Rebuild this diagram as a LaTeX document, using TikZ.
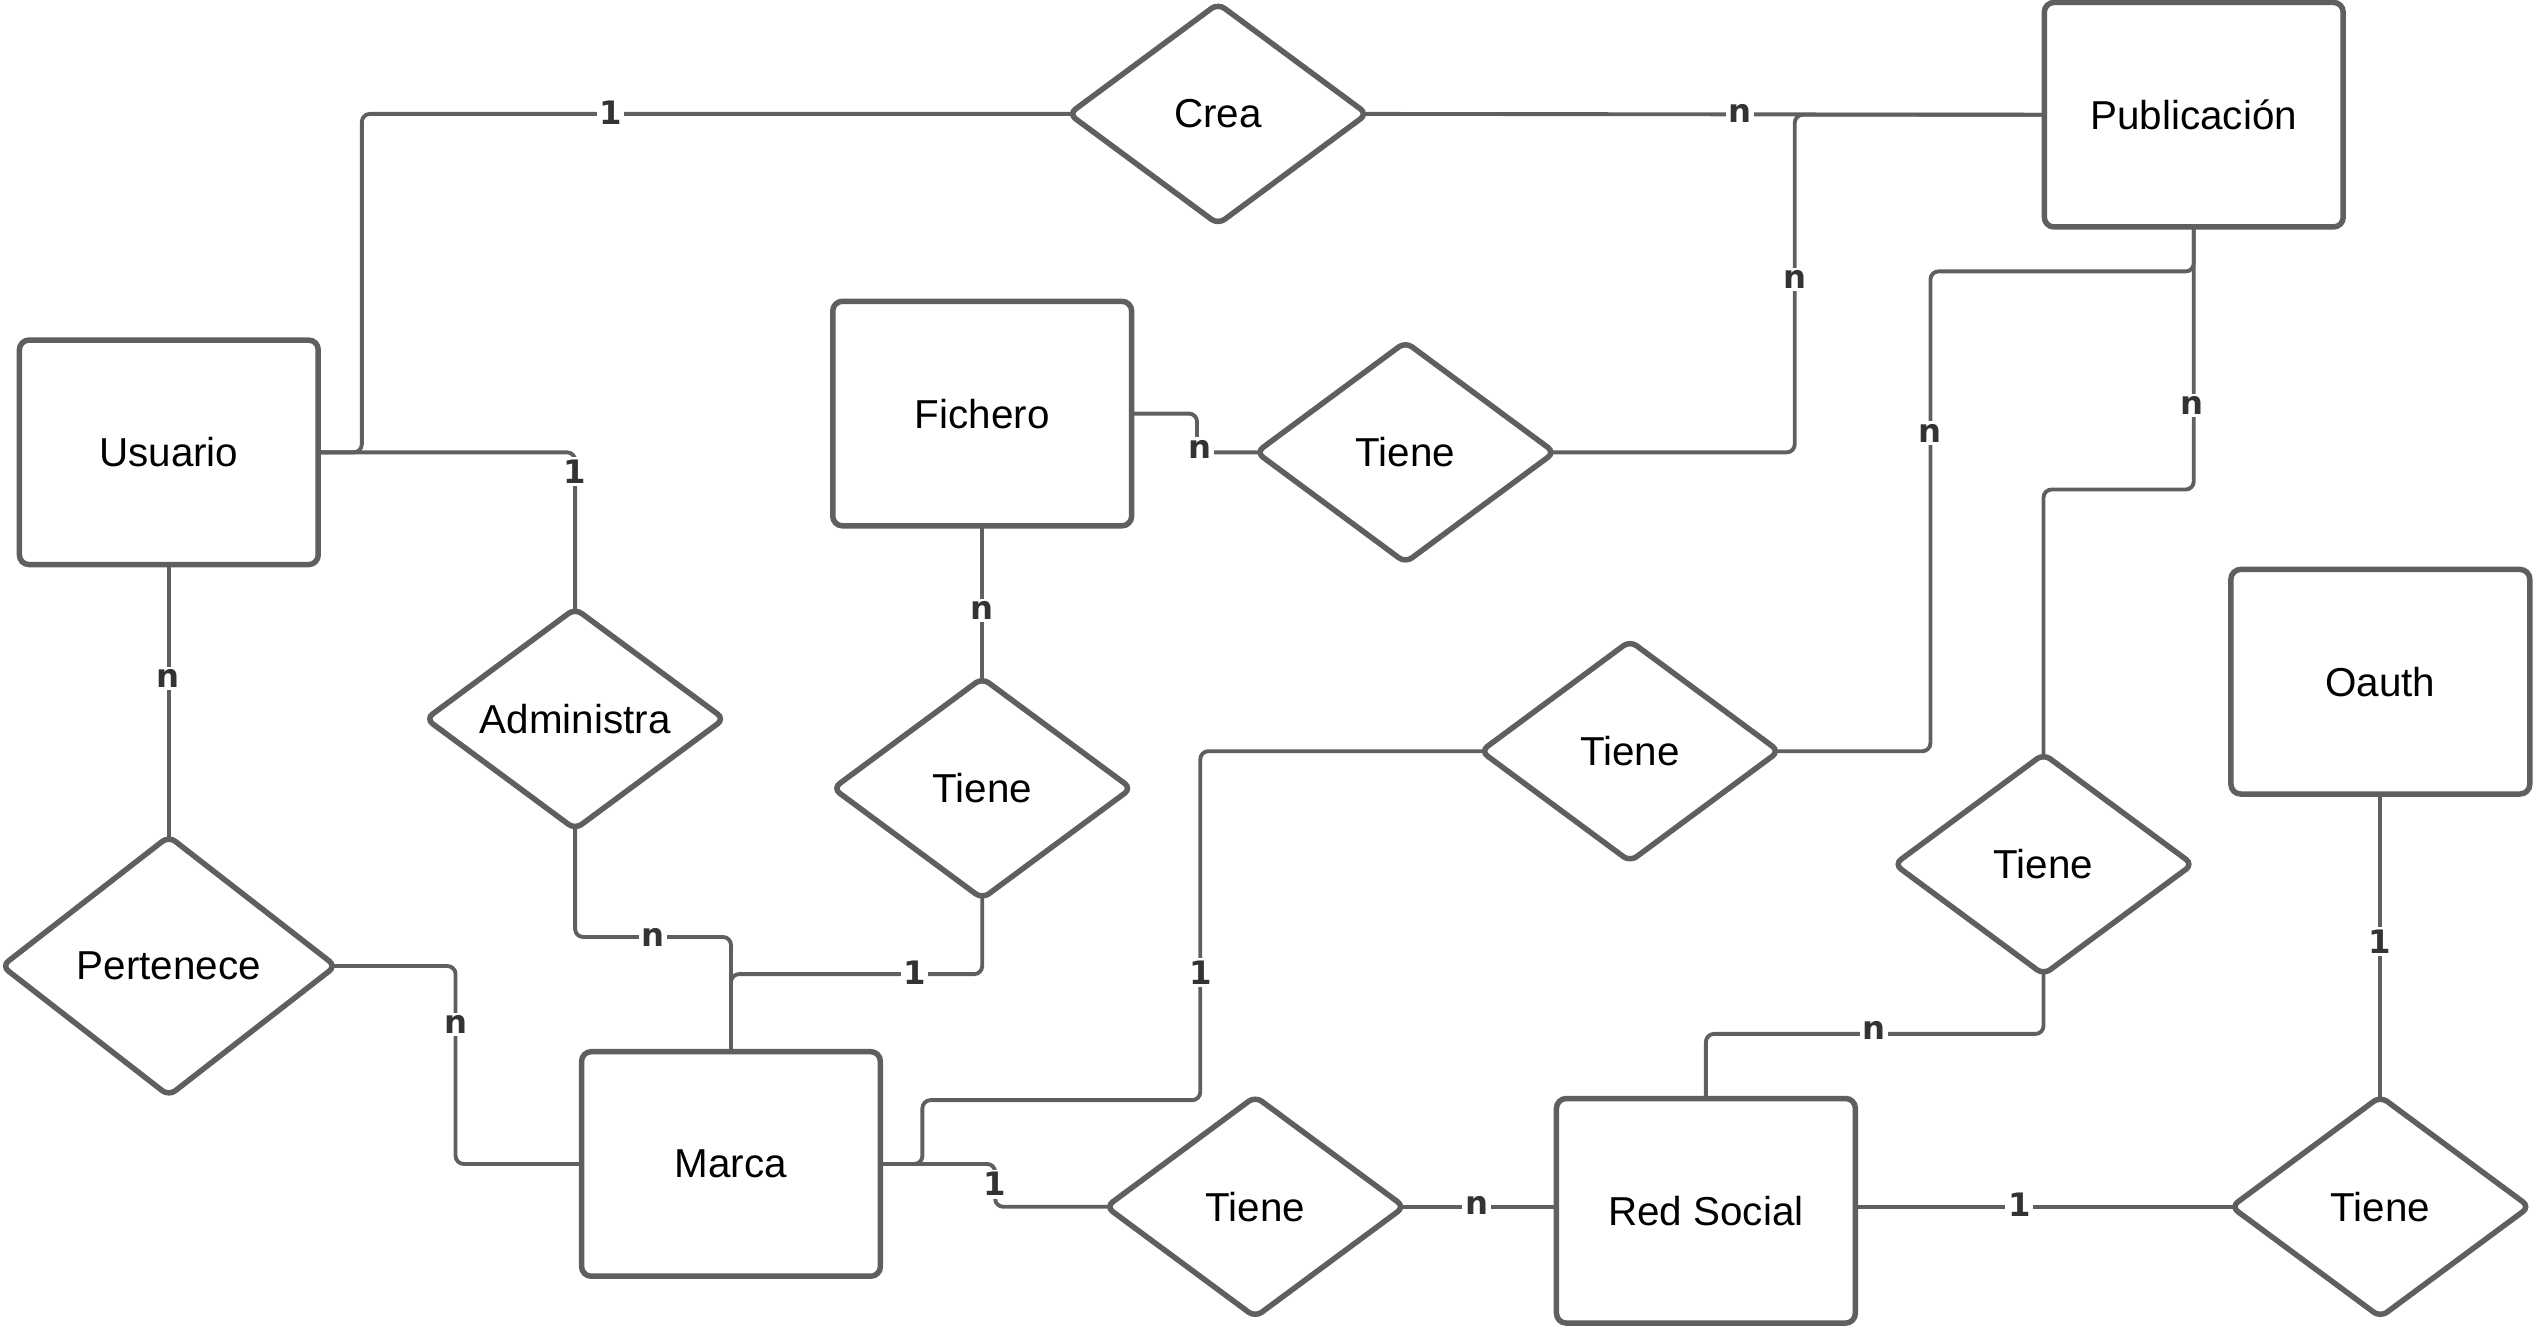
\documentclass[tikz,border=0pt]{standalone}
\usepackage{fontspec}
\setmainfont{Liberation Sans}
\newfontfamily\lblfont{DejaVu Sans}
\usetikzlibrary{shapes.geometric}
\pgfdeclarelayer{bg}
\pgfsetlayers{bg,main}
\definecolor{lc}{HTML}{5F5F5F}
\definecolor{tc}{HTML}{333333}
\begin{document}
\begin{tikzpicture}[x=0.5pt,y=-0.5pt,
 ent/.style={draw=lc, line width=1.7pt, rounded corners=3pt, fill=white,
   minimum width=92.5pt, minimum height=69.5pt, inner sep=0pt,
   font=\fontsize{12.5}{15}\selectfont},
 rel/.style={draw=lc, line width=1.7pt, diamond, rounded corners=2.5pt, fill=white,
   minimum width=93pt, minimum height=69pt, inner sep=0pt,
   font=\fontsize{12.5}{15}\selectfont},
 con/.style={draw=lc, line width=1.2pt, rounded corners=2.5pt,
   shorten <=-3pt, shorten >=-3pt},
 lbl/.style={fill=white, text=tc, inner sep=0.8pt,
   font=\lblfont\bfseries\fontsize{10}{12}\selectfont}
]
\useasboundingbox (0,0) rectangle (1568,821);

% entities
\node[ent] (usu) at (104.5,280) {Usuario};
\node[ent] (fic) at (608,256) {Fichero};
\node[ent] (pub) at (1358,71) {Publicación};
\node[ent] (oau) at (1473.5,422) {Oauth};
\node[ent] (mar) at (452.5,720.5) {Marca};
\node[ent] (red) at (1056,749.5) {Red Social};

% relationships
\node[rel] (crea) at (754,70.5) {Crea};
\node[rel] (tf) at (870,280) {Tiene};
\node[rel] (adm) at (356,445) {Administra};
\node[rel] (tfm) at (608,488) {Tiene};
\node[rel, minimum width=104pt, minimum height=81pt] (per) at (104.5,598) {Pertenece};
\node[rel] (tmid) at (1009,465) {Tiene};
\node[rel] (trt) at (1265,535) {Tiene};
\node[rel] (tbot) at (777,747) {Tiene};
\node[rel] (toa) at (1473.5,747) {Tiene};

% connectors
\begin{pgfonlayer}{bg}
\draw[con] (usu.east) -- (224,280) |- (crea.west);
\draw[con] (usu.east) -| (adm.north);
\draw[con] (crea.east) -- (pub.west);
\draw[con] (fic.east) -- (741,256) |- (tf.west);
\draw[con] (tf.east) -| (1111,71) -- (pub.west);
\draw[con] (fic.south) -- (tfm.north);
\draw[con] (tfm.south) |- (452.5,603) -- (mar.north);
\draw[con] (adm.south) |- (452.5,580) -- (mar.north);
\draw[con] (usu.south) -- (per.north);
\draw[con] (per.east) -- (282,598) |- (mar.west);
\draw[con] (mar.east) -- (571,720.5) |- (743,681) |- (tmid.west);
\draw[con] (tmid.east) -| (1195,168) -| (pub.south);
\draw[con] (pub.south) |- (1265,303) -- (trt.north);
\draw[con] (trt.south) |- (1056,640) -- (red.north);
\draw[con] (mar.east) -- (616,720.5) |- (tbot.west);
\draw[con] (tbot.east) -- (tbot.east -| red.west);
\draw[con] (toa.west -| red.east) -- (toa.west);
\draw[con] (oau.south) -- (toa.north);
\end{pgfonlayer}

% cardinality labels
\node[lbl] (l1) at (378,70) {1};
\node[lbl] (l2) at (356,292) {1};
\node[lbl] (l3) at (1077,70) {n};
\node[lbl] (l4) at (743,278) {n};
\node[lbl] (l5) at (1111,173) {n};
\node[lbl] (l6) at (608,378) {n};
\node[lbl] (l7) at (566,602) {1};
\node[lbl] (l8) at (404,580) {n};
\node[lbl] (l9) at (104,420) {n};
\node[lbl] (l10) at (282,634) {n};
\node[lbl] (l11) at (743,602) {1};
\node[lbl] (l12) at (1195,268) {n};
\node[lbl] (l13) at (1357,251) {n};
\node[lbl] (l14) at (1160,638) {n};
\node[lbl] (l15) at (616,733) {1};
\node[lbl] (l16) at (914,746) {n};
\node[lbl] (l17) at (1250,746) {1};
\node[lbl] (l18) at (1473,583) {1};
\end{tikzpicture}
\end{document}
